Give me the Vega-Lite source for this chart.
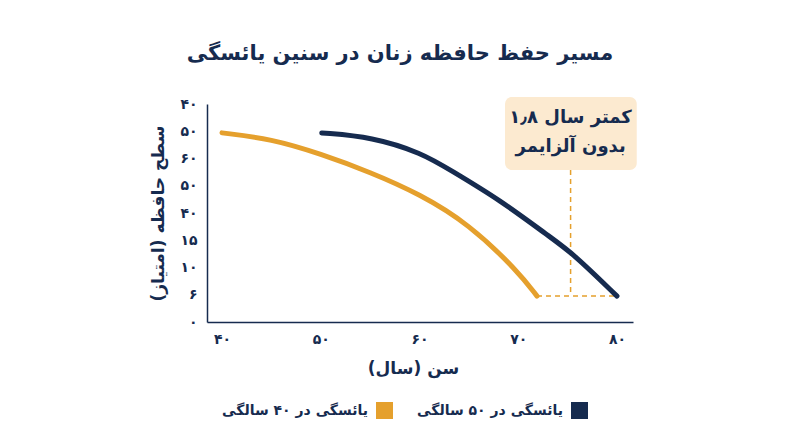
{
  "$schema": "https://vega.github.io/schema/vega-lite/v6.json",
  "autosize": "none",
  "width": 426,
  "height": 218,
  "padding": {"left": 207, "top": 104, "right": 167, "bottom": 125},
  "background": "white",
  "config": {
    "view": {"stroke": null},
    "font": "DejaVu Sans"
  },
  "title": {
    "text": "مسیر حفظ حافظه زنان در سنین یائسگی",
    "font": "DejaVu Sans",
    "fontSize": 21,
    "fontWeight": "bold",
    "color": "#162B4F",
    "anchor": "middle",
    "frame": "group",
    "dx": -20,
    "offset": 33
  },
  "datasets": {
    "curves": [
      {"age": 40, "score": 6.94, "group": "یائسگی در ۴۰ سالگی"},
      {"age": 45, "score": 6.72, "group": "یائسگی در ۴۰ سالگی"},
      {"age": 50, "score": 6.17, "group": "یائسگی در ۴۰ سالگی"},
      {"age": 55, "score": 5.5, "group": "یائسگی در ۴۰ سالگی"},
      {"age": 60, "score": 4.7, "group": "یائسگی در ۴۰ سالگی"},
      {"age": 65, "score": 3.6, "group": "یائسگی در ۴۰ سالگی"},
      {"age": 70, "score": 1.85, "group": "یائسگی در ۴۰ سالگی"},
      {"age": 71.9, "score": 0.95, "group": "یائسگی در ۴۰ سالگی"},
      {"age": 50.1, "score": 6.94, "group": "یائسگی در ۵۰ سالگی"},
      {"age": 55.2, "score": 6.79, "group": "یائسگی در ۵۰ سالگی"},
      {"age": 60.25, "score": 6.2, "group": "یائسگی در ۵۰ سالگی"},
      {"age": 63.1, "score": 5.58, "group": "یائسگی در ۵۰ سالگی"},
      {"age": 68.15, "score": 4.48, "group": "یائسگی در ۵۰ سالگی"},
      {"age": 73.2, "score": 3.12, "group": "یائسگی در ۵۰ سالگی"},
      {"age": 75.5, "score": 2.53, "group": "یائسگی در ۵۰ سالگی"},
      {"age": 80, "score": 0.95, "group": "یائسگی در ۵۰ سالگی"}
    ],
    "hgap": [{"x": 71.9, "x2": 80, "y": 0.95}],
    "vgap": [{"x": 75.3, "y": 5.58, "y2": 0.95}],
    "box": [{"x": 68.66, "x2": 82.0, "y": 8.26, "y2": 5.58}],
    "note": [
      {"x": 75.3, "y": 7.49, "text": "\u202a۱٫۸ کمتر سال\u202c"},
      {"x": 75.3, "y": 6.42, "text": "بدون آلزایمر"}
    ]
  },
  "layer": [
    {
      "data": {"name": "hgap"},
      "mark": {"type": "rule", "color": "#E5A02D", "strokeWidth": 1.5, "strokeDash": [5, 4]},
      "encoding": {
        "x": {"field": "x", "type": "quantitative", "scale": {"domain": [38.48, 81.62], "nice": false, "zero": false}},
        "x2": {"field": "x2"},
        "y": {"field": "y", "type": "quantitative", "scale": {"domain": [0, 8], "nice": false}}
      }
    },
    {
      "data": {"name": "vgap"},
      "mark": {"type": "rule", "color": "#E5A02D", "strokeWidth": 1.5, "strokeDash": [5, 4]},
      "encoding": {
        "x": {"field": "x", "type": "quantitative"},
        "y": {"field": "y", "type": "quantitative"},
        "y2": {"field": "y2"}
      }
    },
    {
      "data": {"name": "curves"},
      "mark": {"type": "line", "strokeWidth": 5, "strokeCap": "round", "interpolate": "basis"},
      "encoding": {
        "x": {
          "field": "age",
          "type": "quantitative",
          "title": "سن (سال)",
          "axis": {
            "values": [40, 50, 60, 70, 80],
            "tickCount": 10,
            "labelExpr": "['۴۰','۵۰','۶۰','۷۰','۸۰'][(datum.value - 40) / 10]",
            "grid": false,
            "ticks": false,
            "domainColor": "#162B4F",
            "domainWidth": 1.5,
            "labelColor": "#162B4F",
            "labelFont": "DejaVu Sans",
            "labelFontSize": 14,
            "labelFontWeight": "bold",
            "labelPadding": 10,
            "titleColor": "#162B4F",
            "titleFont": "DejaVu Sans",
            "titleFontSize": 17,
            "titleFontWeight": "bold",
            "titlePadding": 14,
            "titleX": 206
          }
        },
        "y": {
          "field": "score",
          "type": "quantitative",
          "title": "سطح حافظه (امتیاز)",
          "axis": {
            "values": [0, 1, 2, 3, 4, 5, 6, 7, 8],
            "tickCount": 10,
            "labelExpr": "['۰','۶','۱۰','۱۵','۴۰','۵۰','۶۰','۵۰','۴۰'][datum.value]",
            "labelOverlap": false,
            "grid": false,
            "ticks": false,
            "domainColor": "#162B4F",
            "domainWidth": 1.5,
            "labelColor": "#162B4F",
            "labelFont": "DejaVu Sans",
            "labelFontSize": 14,
            "labelFontWeight": "bold",
            "labelPadding": 10,
            "titleColor": "#162B4F",
            "titleFont": "DejaVu Sans",
            "titleFontSize": 17,
            "titleFontWeight": "bold",
            "titlePadding": 12
          }
        },
        "color": {
          "field": "group",
          "type": "nominal",
          "scale": {
            "domain": ["یائسگی در ۴۰ سالگی", "یائسگی در ۵۰ سالگی"],
            "range": ["#E5A02D", "#162B4F"]
          },
          "legend": {
            "title": null,
            "orient": "none",
            "direction": "horizontal",
            "legendX": 169,
            "legendY": 298,
            "symbolType": "square",
            "symbolSize": 289,
            "symbolStrokeWidth": 0,
            "labelAlign": "right",
            "labelOffset": -25,
            "labelFont": "DejaVu Sans",
            "labelFontSize": 14,
            "labelFontWeight": "bold",
            "labelColor": "#162B4F",
            "columnPadding": 24,
            "labelLimit": 300,
            "encode": {
              "symbols": {
                "update": {
                  "fill": {"scale": "color", "field": "value"},
                  "opacity": {"value": 1}
                }
              }
            }
          }
        }
      }
    },
    {
      "data": {"name": "box"},
      "mark": {"type": "rect", "color": "#FCEAD0", "cornerRadius": 7},
      "encoding": {
        "x": {"field": "x", "type": "quantitative"},
        "x2": {"field": "x2"},
        "y": {"field": "y", "type": "quantitative"},
        "y2": {"field": "y2"}
      }
    },
    {
      "data": {"name": "note"},
      "mark": {"type": "text", "font": "DejaVu Sans", "fontSize": 18, "fontWeight": "bold", "color": "#162B4F", "align": "center", "baseline": "middle"},
      "encoding": {
        "x": {"field": "x", "type": "quantitative"},
        "y": {"field": "y", "type": "quantitative"},
        "text": {"field": "text"}
      }
    }
  ]
}
